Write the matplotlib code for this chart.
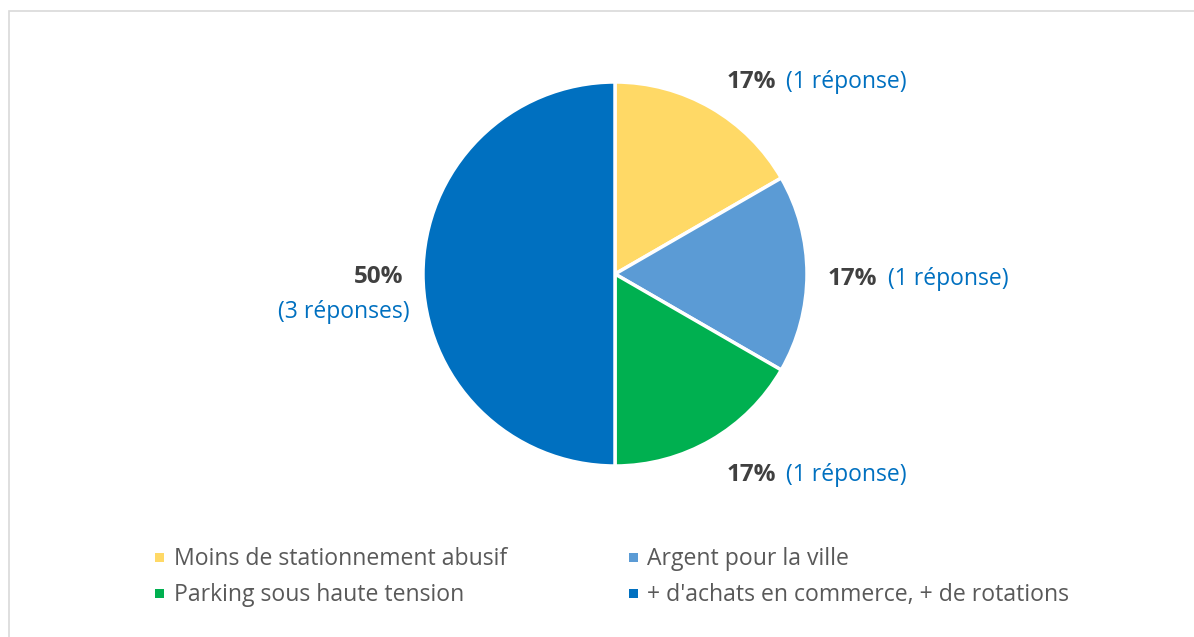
import matplotlib
matplotlib.use("Agg")
import matplotlib.pyplot as plt
from matplotlib.patches import Rectangle

categories = ["Moins de stationnement abusif", "Argent pour la ville",
              "Parking sous haute tension", "+ d'achats en commerce, + de rotations"]
responses = [1, 1, 1, 3]
pct_labels = ["17%", "17%", "17%", "50%"]
resp_labels = ["(1 réponse)", "(1 réponse)", "(1 réponse)", "(3 réponses)"]
colors = ["#FFD966", "#5B9BD5", "#00B050", "#0070C0"]

W, H = 1194, 637
fig = plt.figure(figsize=(W / 100, H / 100), dpi=100)
ax = fig.add_axes([0, 0, 1, 1])

FONT = ["Open Sans", "DejaVu Sans"]

def Y(py):
    return H - py

wedges, _ = ax.pie(responses, colors=colors, startangle=90, counterclock=False,
                   center=(615, Y(274)), radius=192, frame=True,
                   wedgeprops=dict(edgecolor="white", linewidth=2.5))
ax.set_xlim(0, W)
ax.set_ylim(0, H)
ax.set_aspect("equal")
ax.axis("off")

# border
ax.add_patch(Rectangle((8.5, Y(1000)), 2000, 1000 - 10.5, fill=False,
                       edgecolor="#D9D9D9", linewidth=1.2))

gray = "#404040"
blue = "#0070C0"
fs_b = 17.5
fs = 16.5
# (pct right x, resp left x, baseline y) in pixels
lab = [(776, 786, 88), (877, 888, 285), (776, 786, 481)]
for i, (px, rx, by) in enumerate(lab):
    ax.text(px, Y(by), pct_labels[i], ha="right", va="baseline", fontsize=fs_b,
            fontweight="bold", color=gray, family=FONT)
    ax.text(rx, Y(by), resp_labels[i], ha="left", va="baseline", fontsize=fs,
            color=blue, family=FONT)
ax.text(403, Y(283), pct_labels[3], ha="right", va="baseline", fontsize=fs_b,
        fontweight="bold", color=gray, family=FONT)
ax.text(410, Y(318), resp_labels[3], ha="right", va="baseline", fontsize=fs,
        color=blue, family=FONT)

# legend
order = [(0, 159.5, 565), (1, 633, 565), (2, 159.5, 601), (3, 633, 601)]
for idx, mx, by in order:
    ax.add_patch(Rectangle((mx - 4.5, Y(by - 7.5) - 4.5), 9, 9,
                           color=colors[idx], lw=0))
    ax.text(mx + 14, Y(by), categories[idx], ha="left", va="baseline",
            fontsize=16.6, color="#595959", family=FONT)

fig.savefig("out.png", dpi=100)
